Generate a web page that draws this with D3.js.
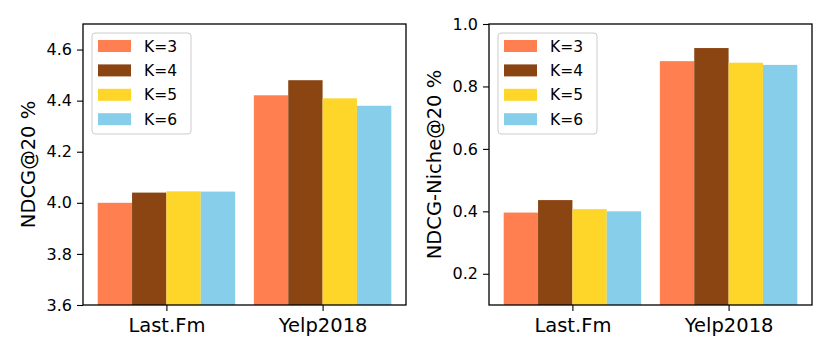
<!DOCTYPE html>
<html>
<head>
<meta charset="utf-8">
<script src="https://cdn.jsdelivr.net/npm/d3@7"></script>
<style>
  body { margin: 0; background: #fff; }
  svg { display: block; font-family: "DejaVu Sans", sans-serif; }
</style>
</head>
<body>
<svg id="chart" width="830" height="356"></svg>
<script>
// data
var categories = ["Last.Fm", "Yelp2018"];
var seriesNames = ["K=3", "K=4", "K=5", "K=6"];
var seriesColors = ["#FF7F50", "#8B4513", "#FED62A", "#87CEEB"];

// one row per series, one value per category
var ndcgValues = [
    [4.000, 4.421],
    [4.040, 4.480],
    [4.045, 4.409],
    [4.044, 4.380]
];
var nicheValues = [
    [0.396, 0.881],
    [0.436, 0.923],
    [0.407, 0.876],
    [0.400, 0.869]
];
var ndcgTicks = [3.6, 3.8, 4.0, 4.2, 4.4, 4.6];
var nicheTicks = [0.2, 0.4, 0.6, 0.8, 1.0];

var svg = d3.select("#chart");
var barWidth = 0.22;

var panels = [
    { left: 83, right: 406, top: 24, bottom: 305, yDomain: [3.6, 4.7], ticks: ndcgTicks,
      values: ndcgValues, label: "NDCG@20 %", labelX: 28, legendX: 92 },
    { left: 489, right: 812, top: 24, bottom: 305, yDomain: [0.1, 1.0], ticks: nicheTicks,
      values: nicheValues, label: "NDCG-Niche@20 %", labelX: 434, legendX: 498 }
];

panels.forEach(function (p) {
    var g = svg.append("g");

    var x = d3.scaleLinear().domain([-0.534, 1.534]).range([p.left, p.right]);
    var y = d3.scaleLinear().domain(p.yDomain).range([p.bottom, p.top]);

    // bars
    p.values.forEach(function (row, s) {
        g.selectAll(null)
            .data(row)
            .enter()
            .append("rect")
            .attr("x", function (d, i) { return x(i + (s - 2) * barWidth); })
            .attr("y", function (d) { return y(d); })
            .attr("width", function (d, i) { return x(i + (s - 1) * barWidth) - x(i + (s - 2) * barWidth); })
            .attr("height", function (d) { return p.bottom - y(d); })
            .style("fill", seriesColors[s]);
    });

    // y axis
    var yAxis = g.append("g")
        .attr("transform", "translate(" + p.left + ",0)")
        .call(d3.axisLeft(y).tickValues(p.ticks).tickFormat(d3.format(".1f")).tickSize(6).tickPadding(5));
    yAxis.select(".domain").remove();
    yAxis.selectAll("line").style("stroke", "#000").style("stroke-width", 1.1);
    yAxis.selectAll("text").style("font-size", "16px").style("fill", "#000")
        .style("font-family", "DejaVu Sans");

    // x axis
    var xAxis = g.append("g")
        .attr("transform", "translate(0," + p.bottom + ")")
        .call(d3.axisBottom(x).tickValues([0, 1]).tickFormat(function (d) { return categories[d]; })
            .tickSize(6).tickPadding(7));
    xAxis.select(".domain").remove();
    xAxis.selectAll("line").style("stroke", "#000").style("stroke-width", 1.1);
    xAxis.selectAll("text").style("font-size", "19.5px").style("fill", "#000")
        .style("font-family", "DejaVu Sans");

    // frame
    g.append("rect")
        .attr("x", p.left).attr("y", p.top)
        .attr("width", p.right - p.left).attr("height", p.bottom - p.top)
        .style("fill", "none").style("stroke", "#000").style("stroke-width", 1.3);

    // y label
    g.append("text")
        .attr("transform", "translate(" + p.labelX + "," + ((p.top + p.bottom) / 2) + ") rotate(-90)")
        .attr("text-anchor", "middle")
        .attr("dy", "0.35em")
        .style("font-size", "19.5px")
        .text(p.label);

    // legend
    var lg = g.append("g").attr("transform", "translate(" + p.legendX + ",33)");
    lg.append("rect")
        .attr("width", 99).attr("height", 101).attr("rx", 3)
        .style("fill", "#fff").style("fill-opacity", 0.8)
        .style("stroke", "#cccccc").style("stroke-width", 1);
    seriesNames.forEach(function (name, s) {
        var cy = 13 + s * 24.4;
        lg.append("rect")
            .attr("x", 6).attr("y", cy - 6)
            .attr("width", 33).attr("height", 12)
            .style("fill", seriesColors[s]);
        lg.append("text")
            .attr("x", 52).attr("y", cy)
            .attr("dy", "0.36em")
            .style("font-size", "15.5px")
            .text(name);
    });
});
</script>
</body>
</html>
